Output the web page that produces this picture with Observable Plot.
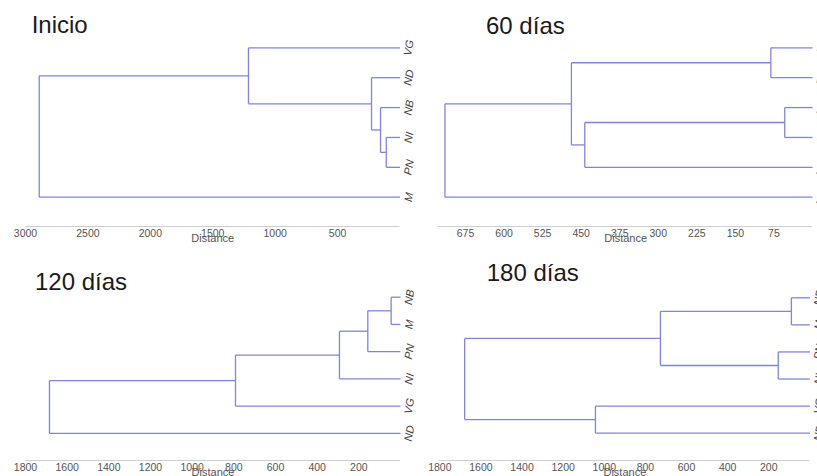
<!DOCTYPE html>
<html>
<head>
<meta charset="utf-8">
<script src="https://cdn.jsdelivr.net/npm/d3@7"></script>
<script src="https://cdn.jsdelivr.net/npm/@observablehq/plot@0.6"></script>
<style>
  html, body { margin: 0; padding: 0; background: #fff; overflow: hidden; }
  #root { position: relative; width: 817px; height: 476px; overflow: hidden; }
  .panel { position: absolute; }
  .title { position: absolute; font-family: "Liberation Sans", Arial, sans-serif; font-size: 24px; line-height: 24px; color: #1a1a1a; white-space: nowrap; }
</style>
</head>
<body>
<div id="root"></div>
<script>
// ---- Data ----
// Merges follow hclust convention: negative = leaf (1-based), positive = earlier merge (1-based); third value = height (distance)
const inicioLabels = ["VG", "ND", "NB", "NI", "PN", "M"];
const inicioMerges = [[-4, -5, 110], [-3, 1, 156], [-2, 2, 228], [-1, 3, 1214], [4, -6, 2890]];
const inicioTicks = [3000, 2500, 2000, 1500, 1000, 500];

const dias60Labels = ["NI", "PN", "NB", "M", "VG", "ND"];
const dias60Merges = [[-3, -4, 54], [-1, -2, 81], [1, -5, 443], [2, 3, 469], [4, -6, 715]];
const dias60Ticks = [675, 600, 525, 450, 375, 300, 225, 150, 75];

const dias120Labels = ["NB", "M", "PN", "NI", "VG", "ND"];
const dias120Merges = [[-1, -2, 45], [1, -3, 157], [2, -4, 293], [3, -5, 792], [4, -6, 1685]];
const dias120Ticks = [1800, 1600, 1400, 1200, 1000, 800, 600, 400, 200];

const dias180Labels = ["NB", "M", "PN", "NI", "VG", "ND"];
const dias180Merges = [[-1, -2, 90], [-3, -4, 154], [1, 2, 727], [-5, -6, 1043], [3, 4, 1679]];
const dias180Ticks = [1800, 1600, 1400, 1200, 1000, 800, 600, 400, 200];

const axisTitle = "Distance";

// ---- Layout ----
const panels = [
  {title: "Inicio", labels: inicioLabels, merges: inicioMerges, ticks: inicioTicks, xMax: 3000,
   left: 0, top: 0, width: 420, height: 250, mL: 25, mR: 20.5, mT: 47.3, mB: 24, yMax: 5.98, tX: 31.7, tY: 13},
  {title: "60 días", labels: dias60Labels, merges: dias60Merges, ticks: dias60Ticks, xMax: 727,
   left: 420, top: 0, width: 397, height: 250, mL: 18.3, mR: 5, mT: 47.3, mB: 24, yMax: 5.98, tX: 486, tY: 13.7},
  {title: "120 días", labels: dias120Labels, merges: dias120Merges, ticks: dias120Ticks, xMax: 1800,
   left: 0, top: 250, width: 420, height: 226, mL: 25, mR: 20, mT: 46.7, mB: 16, yMax: 6.0, tX: 35, tY: 270.4},
  {title: "180 días", labels: dias180Labels, merges: dias180Merges, ticks: dias180Ticks, xMax: 1800,
   left: 420, top: 250, width: 397, height: 226, mL: 19.3, mR: 7.6, mT: 47.3, mB: 16, yMax: 6.01, tX: 486.7, tY: 261.4}
];

const lineColor = "#8282e6";

function dendroSegments(labels, merges) {
  const nodes = []; // merge nodes
  const get = (ref) => ref < 0 ? {h: 0, y: -ref - 1} : nodes[ref - 1];
  const segs = [];
  merges.forEach(([a, b, h]) => {
    const A = get(a), B = get(b);
    segs.push({x1: A.h, y1: A.y, x2: h, y2: A.y});
    segs.push({x1: B.h, y1: B.y, x2: h, y2: B.y});
    segs.push({x1: h, y1: A.y, x2: h, y2: B.y});
    nodes.push({h, y: (A.y + B.y) / 2});
  });
  return segs;
}

const root = document.getElementById("root");
panels.forEach(p => {
  const segs = dendroSegments(p.labels, p.merges);
  const leaves = p.labels.map((name, i) => ({name, i}));
  const chart = Plot.plot({
    width: p.width,
    height: p.height,
    marginLeft: p.mL,
    marginRight: p.mR,
    marginTop: p.mT,
    marginBottom: p.mB,
    style: {fontFamily: "'Liberation Sans', Arial, sans-serif", fontSize: "10.5px", color: "#555", background: "transparent", overflow: "hidden"},
    x: {domain: [p.xMax, 0], axis: null},
    y: {domain: [0, p.yMax], reverse: true, axis: null},
    marks: [
      Plot.ruleY([p.yMax], {stroke: "#cfcfcf", strokeWidth: 1}),
      Plot.axisX({ticks: p.ticks, tickSize: 0, tickPadding: 3, tickFormat: d3.format("d"), label: null, fill: "#555"}),
      Plot.text([axisTitle], {frameAnchor: "bottom", dy: 15, fontSize: 11, fill: "#555"}),
      Plot.link(segs, {x1: "x1", y1: "y1", x2: "x2", y2: "y2", stroke: lineColor, strokeWidth: 1.3}),
      Plot.text(leaves, {x: () => 0, y: "i", text: "name", rotate: -80, dx: 9, fontSize: 11, fontStyle: "italic", fill: "#444"})
    ]
  });
  const wrap = document.createElement("div");
  wrap.className = "panel";
  wrap.style.left = p.left + "px";
  wrap.style.top = p.top + "px";
  wrap.appendChild(chart);
  root.appendChild(wrap);
  const t = document.createElement("div");
  t.className = "title";
  t.style.left = p.tX + "px";
  t.style.top = p.tY + "px";
  t.textContent = p.title;
  root.appendChild(t);
});
</script>
</body>
</html>
